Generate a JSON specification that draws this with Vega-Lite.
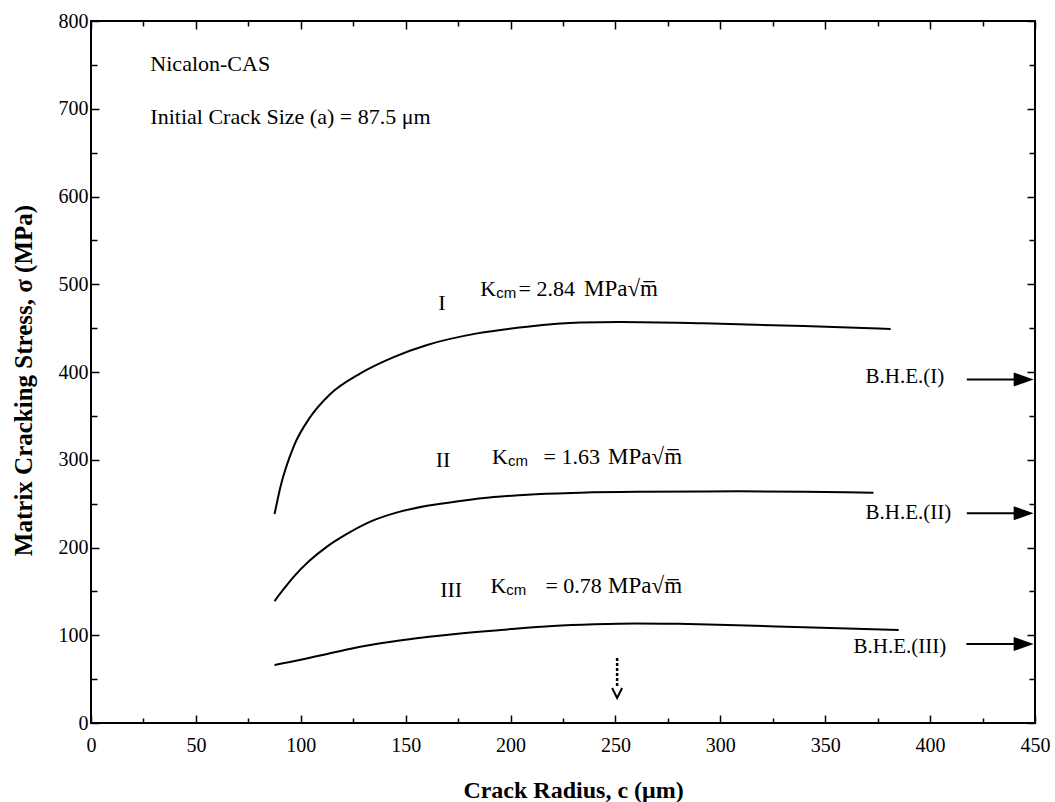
{
  "$schema": "https://vega.github.io/schema/vega-lite/v6.json",
  "width": 944,
  "height": 702,
  "autosize": {"type": "none"},
  "padding": {"left": 91, "top": 21, "right": 20, "bottom": 79},
  "background": "white",
  "config": {
    "view": {"stroke": "black", "strokeWidth": 2},
    "font": "Liberation Serif",
    "axis": {
      "grid": false,
      "domain": false,
      "tickColor": "black",
      "tickWidth": 1.5,
      "labelFlush": false,
      "labelFont": "Liberation Serif",
      "labelFontSize": 20,
      "labelColor": "black",
      "titleFont": "Liberation Serif",
      "titleFontWeight": "bold",
      "titleFontSize": 24,
      "titleColor": "black"
    }
  },
  "resolve": {"axis": {"x": "independent", "y": "independent"}},
  "datasets": {
    "curves": [
      {"curve": "I", "c": 87.5, "s": 238}, {"curve": "I", "c": 90.3, "s": 269}, {"curve": "I", "c": 96.6, "s": 315},
      {"curve": "I", "c": 104.6, "s": 349}, {"curve": "I", "c": 114.1, "s": 375}, {"curve": "I", "c": 128.4, "s": 398.5},
      {"curve": "I", "c": 144.3, "s": 417}, {"curve": "I", "c": 160.2, "s": 430.8}, {"curve": "I", "c": 184.1, "s": 444},
      {"curve": "I", "c": 207.9, "s": 451.6}, {"curve": "I", "c": 233.3, "s": 456.3}, {"curve": "I", "c": 252.4, "s": 457},
      {"curve": "I", "c": 292.1, "s": 455.5}, {"curve": "I", "c": 339.8, "s": 452.4}, {"curve": "I", "c": 381.2, "s": 449},
      {"curve": "II", "c": 87.5, "s": 139}, {"curve": "II", "c": 92, "s": 153}, {"curve": "II", "c": 96.6, "s": 166.5},
      {"curve": "II", "c": 104, "s": 184.5}, {"curve": "II", "c": 112.5, "s": 201}, {"curve": "II", "c": 122, "s": 215.5},
      {"curve": "II", "c": 133.2, "s": 229.5}, {"curve": "II", "c": 146, "s": 240}, {"curve": "II", "c": 160.2, "s": 247.5},
      {"curve": "II", "c": 176, "s": 253}, {"curve": "II", "c": 192, "s": 257.5}, {"curve": "II", "c": 210, "s": 260.5},
      {"curve": "II", "c": 233.3, "s": 262.5}, {"curve": "II", "c": 260, "s": 263.5}, {"curve": "II", "c": 308, "s": 264},
      {"curve": "II", "c": 340, "s": 263.5}, {"curve": "II", "c": 373, "s": 262.5},
      {"curve": "III", "c": 87.5, "s": 66}, {"curve": "III", "c": 100, "s": 72}, {"curve": "III", "c": 115, "s": 80},
      {"curve": "III", "c": 128.4, "s": 87}, {"curve": "III", "c": 150, "s": 95}, {"curve": "III", "c": 176, "s": 102},
      {"curve": "III", "c": 200, "s": 107}, {"curve": "III", "c": 220, "s": 110.5}, {"curve": "III", "c": 240, "s": 112.5},
      {"curve": "III", "c": 260, "s": 113.5}, {"curve": "III", "c": 280, "s": 113}, {"curve": "III", "c": 308, "s": 111.5},
      {"curve": "III", "c": 340, "s": 109}, {"curve": "III", "c": 385, "s": 106}
    ],
    "roman": [
      {"c": 167.3, "s": 478.5, "t": "I"},
      {"c": 167.8, "s": 299.7, "t": "II"},
      {"c": 171.7, "s": 151.6, "t": "III"}
    ],
    "kLetter": [
      {"c": 185.6, "s": 494.8, "t": "K"},
      {"c": 191.2, "s": 303.5, "t": "K"},
      {"c": 190.4, "s": 156, "t": "K"}
    ],
    "kSub": [
      {"c": 193.2, "s": 494.8, "t": "cm"},
      {"c": 198.8, "s": 303.5, "t": "cm"},
      {"c": 198, "s": 156, "t": "cm"}
    ],
    "kValue": [
      {"c": 203.8, "s": 494.8, "t": "= 2.84"},
      {"c": 215.7, "s": 303.5, "t": "= 1.63"},
      {"c": 216.6, "s": 156, "t": "= 0.78"}
    ],
    "kUnit": [
      {"c": 235, "s": 494.8, "t": "MPa\u221am\u0305"},
      {"c": 246.5, "s": 303.5, "t": "MPa\u221am\u0305"},
      {"c": 246.5, "s": 156, "t": "MPa\u221am\u0305"}
    ],
    "bhe": [
      {"c": 369.2, "s": 394.6, "t": "B.H.E.(I)"},
      {"c": 369.2, "s": 239, "t": "B.H.E.(II)"},
      {"c": 363.5, "s": 87, "t": "B.H.E.(III)"}
    ],
    "arrows": [
      {"c": 417.5, "c2": 444, "s": 391.5},
      {"c": 417.5, "c2": 444, "s": 239},
      {"c": 417.3, "c2": 444, "s": 90}
    ],
    "heads": [
      {"c": 444.6, "s": 391.5},
      {"c": 444.6, "s": 239},
      {"c": 444.6, "s": 90}
    ],
    "marker": [
      {"c": 250.8, "s": 74, "s2": 40}
    ],
    "chevron": [
      {"c": 250.8, "s": 34.2}
    ],
    "notes": [
      {"c": 28.3, "s": 751.3, "t": "Nicalon-CAS"},
      {"c": 28.3, "s": 691, "t": "Initial Crack Size (a) = 87.5 \u03bcm"}
    ]
  },
  "layer": [
    {
      "data": {"name": "curves"},
      "mark": {"type": "line", "color": "black", "strokeWidth": 2, "interpolate": "monotone"},
      "encoding": {
        "x": {
          "field": "c", "type": "quantitative",
          "scale": {"domain": [0, 450], "nice": false, "zero": false},
          "axis": {
            "orient": "bottom",
            "values": [0, 50, 100, 150, 200, 250, 300, 350, 400, 450],
            "tickSize": -8,
            "labelPadding": 20,
            "title": "Crack Radius, c (\u03bcm)",
            "titleX": 482,
            "titleY": 67,
            "titleBaseline": "middle"
          }
        },
        "y": {
          "field": "s", "type": "quantitative",
          "scale": {"domain": [0, 800], "nice": false, "zero": false},
          "axis": {
            "orient": "left",
            "values": [0, 100, 200, 300, 400, 500, 600, 700, 800],
            "tickSize": -8,
            "labelPadding": 11,
            "title": "Matrix Cracking Stress, \u03c3 (MPa)",
            "titleFontSize": 25,
            "titleX": -68,
            "titleY": 359,
            "titleAngle": -90,
            "titleAlign": "center",
            "titleBaseline": "middle"
          }
        },
        "detail": {"field": "curve"}
      }
    },
    {
      "data": {"name": "roman"},
      "mark": {"type": "text", "font": "Liberation Serif", "fontSize": 22, "color": "black", "align": "center", "baseline": "middle"},
      "encoding": {
        "x": {
          "field": "c", "type": "quantitative",
          "scale": {"domain": [0, 450], "nice": false, "zero": false},
          "axis": {"orient": "bottom", "values": [25, 75, 125, 175, 225, 275, 325, 375, 425], "tickSize": -5, "labels": false, "title": null}
        },
        "y": {
          "field": "s", "type": "quantitative",
          "scale": {"domain": [0, 800], "nice": false, "zero": false},
          "axis": {"orient": "left", "values": [50, 150, 250, 350, 450, 550, 650, 750], "tickSize": -6, "labels": false, "title": null}
        },
        "text": {"field": "t"}
      }
    },
    {
      "data": {"name": "kLetter"},
      "mark": {"type": "text", "font": "Liberation Serif", "fontSize": 22, "color": "black", "align": "left", "baseline": "middle"},
      "encoding": {
        "x": {
          "field": "c", "type": "quantitative",
          "scale": {"domain": [0, 450], "nice": false, "zero": false},
          "axis": {"orient": "top", "values": [0, 50, 100, 150, 200, 250, 300, 350, 400, 450], "tickSize": -8, "labels": false, "title": null}
        },
        "y": {
          "field": "s", "type": "quantitative",
          "scale": {"domain": [0, 800], "nice": false, "zero": false},
          "axis": {"orient": "right", "values": [0, 100, 200, 300, 400, 500, 600, 700, 800], "tickSize": -8, "labels": false, "title": null}
        },
        "text": {"field": "t"}
      }
    },
    {
      "data": {"name": "kSub"},
      "mark": {"type": "text", "font": "Liberation Sans", "fontSize": 15, "color": "black", "align": "left", "baseline": "middle", "dy": 4},
      "encoding": {
        "x": {
          "field": "c", "type": "quantitative",
          "scale": {"domain": [0, 450], "nice": false, "zero": false},
          "axis": {"orient": "top", "values": [25, 75, 125, 175, 225, 275, 325, 375, 425], "tickSize": -5, "labels": false, "title": null}
        },
        "y": {
          "field": "s", "type": "quantitative",
          "scale": {"domain": [0, 800], "nice": false, "zero": false},
          "axis": {"orient": "right", "values": [50, 150, 250, 350, 450, 550, 650, 750], "tickSize": -6, "labels": false, "title": null}
        },
        "text": {"field": "t"}
      }
    },
    {
      "data": {"name": "kValue"},
      "mark": {"type": "text", "font": "Liberation Serif", "fontSize": 22, "color": "black", "align": "left", "baseline": "middle"},
      "encoding": {
        "x": {"field": "c", "type": "quantitative", "scale": {"domain": [0, 450], "nice": false, "zero": false}, "axis": null},
        "y": {"field": "s", "type": "quantitative", "scale": {"domain": [0, 800], "nice": false, "zero": false}, "axis": null},
        "text": {"field": "t"}
      }
    },
    {
      "data": {"name": "kUnit"},
      "mark": {"type": "text", "font": "Liberation Serif", "fontSize": 23, "color": "black", "align": "left", "baseline": "middle"},
      "encoding": {
        "x": {"field": "c", "type": "quantitative", "scale": {"domain": [0, 450], "nice": false, "zero": false}, "axis": null},
        "y": {"field": "s", "type": "quantitative", "scale": {"domain": [0, 800], "nice": false, "zero": false}, "axis": null},
        "text": {"field": "t"}
      }
    },
    {
      "data": {"name": "bhe"},
      "mark": {"type": "text", "font": "Liberation Serif", "fontSize": 21, "color": "black", "align": "left", "baseline": "middle"},
      "encoding": {
        "x": {"field": "c", "type": "quantitative", "scale": {"domain": [0, 450], "nice": false, "zero": false}, "axis": null},
        "y": {"field": "s", "type": "quantitative", "scale": {"domain": [0, 800], "nice": false, "zero": false}, "axis": null},
        "text": {"field": "t"}
      }
    },
    {
      "data": {"name": "arrows"},
      "mark": {"type": "rule", "color": "black", "strokeWidth": 2},
      "encoding": {
        "x": {"field": "c", "type": "quantitative", "scale": {"domain": [0, 450], "nice": false, "zero": false}, "axis": null},
        "x2": {"field": "c2"},
        "y": {"field": "s", "type": "quantitative", "scale": {"domain": [0, 800], "nice": false, "zero": false}, "axis": null}
      }
    },
    {
      "data": {"name": "heads"},
      "mark": {"type": "point", "shape": "M-1,-0.7L1,0L-1,0.7Z", "size": 400, "filled": true, "color": "black", "opacity": 1},
      "encoding": {
        "x": {"field": "c", "type": "quantitative", "scale": {"domain": [0, 450], "nice": false, "zero": false}, "axis": null},
        "y": {"field": "s", "type": "quantitative", "scale": {"domain": [0, 800], "nice": false, "zero": false}, "axis": null}
      }
    },
    {
      "data": {"name": "marker"},
      "mark": {"type": "rule", "color": "black", "strokeWidth": 2.5, "strokeDash": [3, 2]},
      "encoding": {
        "x": {"field": "c", "type": "quantitative", "scale": {"domain": [0, 450], "nice": false, "zero": false}, "axis": null},
        "y": {"field": "s", "type": "quantitative", "scale": {"domain": [0, 800], "nice": false, "zero": false}, "axis": null},
        "y2": {"field": "s2"}
      }
    },
    {
      "data": {"name": "chevron"},
      "mark": {"type": "point", "shape": "M-1,-1L0,1L1,-1", "size": 100, "filled": false, "color": "black", "strokeWidth": 2, "opacity": 1},
      "encoding": {
        "x": {"field": "c", "type": "quantitative", "scale": {"domain": [0, 450], "nice": false, "zero": false}, "axis": null},
        "y": {"field": "s", "type": "quantitative", "scale": {"domain": [0, 800], "nice": false, "zero": false}, "axis": null}
      }
    },
    {
      "data": {"name": "notes"},
      "mark": {"type": "text", "font": "Liberation Serif", "fontSize": 22, "color": "black", "align": "left", "baseline": "middle"},
      "encoding": {
        "x": {"field": "c", "type": "quantitative", "scale": {"domain": [0, 450], "nice": false, "zero": false}, "axis": null},
        "y": {"field": "s", "type": "quantitative", "scale": {"domain": [0, 800], "nice": false, "zero": false}, "axis": null},
        "text": {"field": "t"}
      }
    }
  ]
}
